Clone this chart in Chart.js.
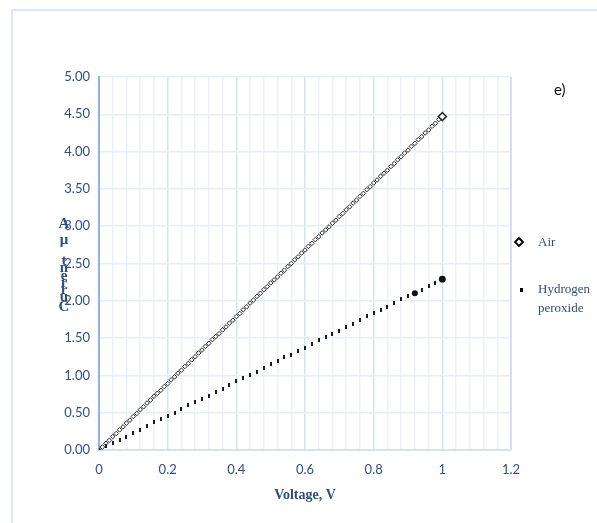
<!DOCTYPE html>
<html>
<head>
<meta charset="utf-8">
<script src="https://cdn.jsdelivr.net/npm/chart.js@4/dist/chart.umd.min.js"></script>
<style>
  html, body { margin: 0; padding: 0; background: #ffffff; }
  #wrap { width: 597px; height: 523px; }
</style>
</head>
<body>
<div id="wrap"><canvas id="c" width="597" height="523"></canvas></div>
<script>
// Current vs. voltage sweep, panel e)
const voltageAir = [
  0.00,0.01,0.02,0.03,0.04,0.05,0.06,0.07,0.08,0.09,
  0.10,0.11,0.12,0.13,0.14,0.15,0.16,0.17,0.18,0.19,
  0.20,0.21,0.22,0.23,0.24,0.25,0.26,0.27,0.28,0.29,
  0.30,0.31,0.32,0.33,0.34,0.35,0.36,0.37,0.38,0.39,
  0.40,0.41,0.42,0.43,0.44,0.45,0.46,0.47,0.48,0.49,
  0.50,0.51,0.52,0.53,0.54,0.55,0.56,0.57,0.58,0.59,
  0.60,0.61,0.62,0.63,0.64,0.65,0.66,0.67,0.68,0.69,
  0.70,0.71,0.72,0.73,0.74,0.75,0.76,0.77,0.78,0.79,
  0.80,0.81,0.82,0.83,0.84,0.85,0.86,0.87,0.88,0.89,
  0.90,0.91,0.92,0.93,0.94,0.95,0.96,0.97,0.98,0.99,
  1.00
];
const currentAir = [
  0.00,0.04,0.09,0.13,0.18,0.22,0.27,0.31,0.36,0.40,
  0.45,0.49,0.54,0.58,0.63,0.67,0.72,0.76,0.80,0.85,
  0.89,0.94,0.98,1.03,1.07,1.12,1.16,1.21,1.25,1.30,
  1.34,1.39,1.43,1.48,1.52,1.56,1.61,1.65,1.70,1.74,
  1.79,1.83,1.88,1.92,1.97,2.01,2.06,2.10,2.15,2.19,
  2.24,2.28,2.32,2.37,2.41,2.46,2.50,2.55,2.59,2.64,
  2.68,2.73,2.77,2.82,2.86,2.91,2.95,2.99,3.04,3.08,
  3.13,3.17,3.22,3.26,3.31,3.35,3.40,3.44,3.49,3.53,
  3.58,3.62,3.67,3.71,3.75,3.80,3.84,3.89,3.93,3.98,
  4.02,4.07,4.11,4.16,4.20,4.25,4.29,4.34,4.38,4.43,
  4.47
];
const voltagePeroxide = [
  0.00,0.02,0.04,0.06,0.08,0.10,0.12,0.14,0.16,0.18,
  0.20,0.22,0.24,0.26,0.28,0.30,0.32,0.34,0.36,0.38,
  0.40,0.42,0.44,0.46,0.48,0.50,0.52,0.54,0.56,0.58,
  0.60,0.62,0.64,0.66,0.68,0.70,0.72,0.74,0.76,0.78,
  0.80,0.82,0.84,0.86,0.88,0.90,0.92,0.94,0.96,0.98,
  1.00
];
const currentPeroxide = [
  0.00,0.05,0.09,0.14,0.18,0.23,0.27,0.32,0.37,0.41,
  0.46,0.50,0.55,0.60,0.64,0.69,0.73,0.78,0.82,0.87,
  0.92,0.96,1.01,1.05,1.10,1.15,1.19,1.24,1.28,1.33,
  1.37,1.42,1.47,1.51,1.56,1.60,1.65,1.69,1.74,1.79,
  1.83,1.88,1.92,1.97,2.02,2.06,2.10,2.15,2.20,2.24,
  2.29
];
const seriesNames = ['Air', 'Hydrogen peroxide'];
const yTickStep = 0.5;
const xTickStep = 0.2;

const textBlue = '#2f4f7f';
const toPoints = (xs, ys) => xs.map((x, i) => ({ x: x, y: ys[i] }));
const isMajorX = v => Math.abs(v / xTickStep - Math.round(v / xTickStep)) < 1e-6;

// small vertical dash used as the peroxide marker
const dash = document.createElement('canvas');
dash.width = 2; dash.height = 4;
(function () {
  const d = dash.getContext('2d');
  d.fillStyle = '#1a1a1a';
  d.fillRect(0, 0, 2, 4);
})();

// Frame, axis titles, legend and panel letter
const decorations = {
  id: 'decorations',
  beforeDraw(chart) {
    const c = chart.ctx;
    c.save();
    c.fillStyle = '#ffffff';
    c.fillRect(0, 0, chart.width, chart.height);
    c.strokeStyle = '#dde7f4';
    c.lineWidth = 2;
    c.beginPath();
    c.moveTo(12, chart.height);
    c.lineTo(12, 10);
    c.lineTo(chart.width, 10);
    c.stroke();
    c.restore();
  },
  afterDatasetsDraw(chart) {
    const c = chart.ctx;
    const a = chart.chartArea;
    c.save();
    // right edge of plot area
    c.strokeStyle = '#d3e0f1';
    c.lineWidth = 2;
    c.beginPath();
    c.moveTo(a.right, a.top);
    c.lineTo(a.right, a.bottom);
    c.stroke();

    // x-axis title
    c.fillStyle = textBlue;
    c.font = 'bold 14px "Liberation Serif", "Times New Roman", serif';
    c.textAlign = 'center';
    c.textBaseline = 'middle';
    c.fillText('Voltage, V', (a.left + a.right) / 2, 495);

    // y-axis title, letters stacked
    const letters = ['A', 'μ', 't', 'n', 'e', 'r', 'r', 'u', 'C'];
    const ys = [224, 240, 261, 268, 276, 283, 290, 297, 307];
    c.font = 'bold 15px "Liberation Serif", "Times New Roman", serif';
    letters.forEach((ch, i) => c.fillText(ch, 64, ys[i]));

    // legend
    c.strokeStyle = '#000000';
    c.lineWidth = 1.8;
    c.fillStyle = '#ffffff';
    c.beginPath();
    c.moveTo(519, 238); c.lineTo(523, 242); c.lineTo(519, 246); c.lineTo(515, 242);
    c.closePath();
    c.fill();
    c.stroke();
    c.fillStyle = '#000000';
    c.fillRect(520, 288, 3, 4);

    c.fillStyle = textBlue;
    c.font = '13px "Liberation Serif", "Times New Roman", serif';
    c.textAlign = 'left';
    c.fillText(seriesNames[0], 538, 243);
    c.fillText('Hydrogen', 538, 290);
    c.fillText('peroxide', 538, 309);

    // panel letter
    c.fillStyle = '#111111';
    c.font = '15px Lato, "Liberation Sans", sans-serif';
    c.fillText('e)', 554, 90);
    c.restore();
  }
};

new Chart(document.getElementById('c'), {
  type: 'scatter',
  data: {
    datasets: [
      {
        label: seriesNames[0],
        data: toPoints(voltageAir, currentAir),
        pointStyle: 'rectRot',
        pointRadius: ctx => ctx.dataIndex === voltageAir.length - 1 ? 4 : 2.3,
        pointBorderWidth: ctx => ctx.dataIndex === voltageAir.length - 1 ? 1.6 : 1,
        pointBackgroundColor: '#ffffff',
        pointBorderColor: '#262626',
        showLine: false,
        order: 2
      },
      {
        label: seriesNames[1],
        data: toPoints(voltagePeroxide, currentPeroxide),
        pointStyle: ctx => {
          const i = ctx.dataIndex, n = voltagePeroxide.length;
          return (i === n - 1 || i === n - 5) ? 'circle' : dash;
        },
        pointRadius: ctx => {
          const i = ctx.dataIndex, n = voltagePeroxide.length;
          if (i === n - 1) return 3.4;
          if (i === n - 5) return 3;
          return 2;
        },
        pointBorderWidth: 0,
        pointBackgroundColor: '#111111',
        pointBorderColor: '#111111',
        showLine: false,
        order: 1
      }
    ]
  },
  options: {
    responsive: false,
    animation: false,
    devicePixelRatio: 1,
    layout: { padding: { left: 0, top: 77, right: 86, bottom: 0 } },
    plugins: {
      legend: { display: false },
      tooltip: { enabled: false }
    },
    scales: {
      x: {
        type: 'linear',
        min: 0,
        max: 1.2,
        afterFit(scale) { scale.height = 73; },
        ticks: {
          stepSize: 0.04,
          autoSkip: false,
          maxRotation: 0,
          padding: 12,
          color: textBlue,
          font: { family: 'Lato, "Liberation Sans", sans-serif', size: 13 },
          callback: v => isMajorX(v) ? String(Math.round(v * 10) / 10) : ''
        },
        grid: {
          drawTicks: false,
          lineWidth: 1.5,
          color: ctx => (ctx.tick && isMajorX(ctx.tick.value)) ? '#d6e3f4' : '#edf2f9'
        },
        border: { color: '#d6e2f2', width: 2 }
      },
      y: {
        type: 'linear',
        min: 0,
        max: 5,
        afterFit(scale) { scale.width = 99; },
        ticks: {
          stepSize: yTickStep,
          padding: 9,
          color: textBlue,
          font: { family: 'Lato, "Liberation Sans", sans-serif', size: 13 },
          callback: v => v.toFixed(2)
        },
        grid: {
          drawTicks: false,
          lineWidth: 1.5,
          color: '#e8eef7'
        },
        border: { color: '#90b2e2', width: 2 }
      }
    }
  },
  plugins: [decorations]
});
</script>
</body>
</html>
